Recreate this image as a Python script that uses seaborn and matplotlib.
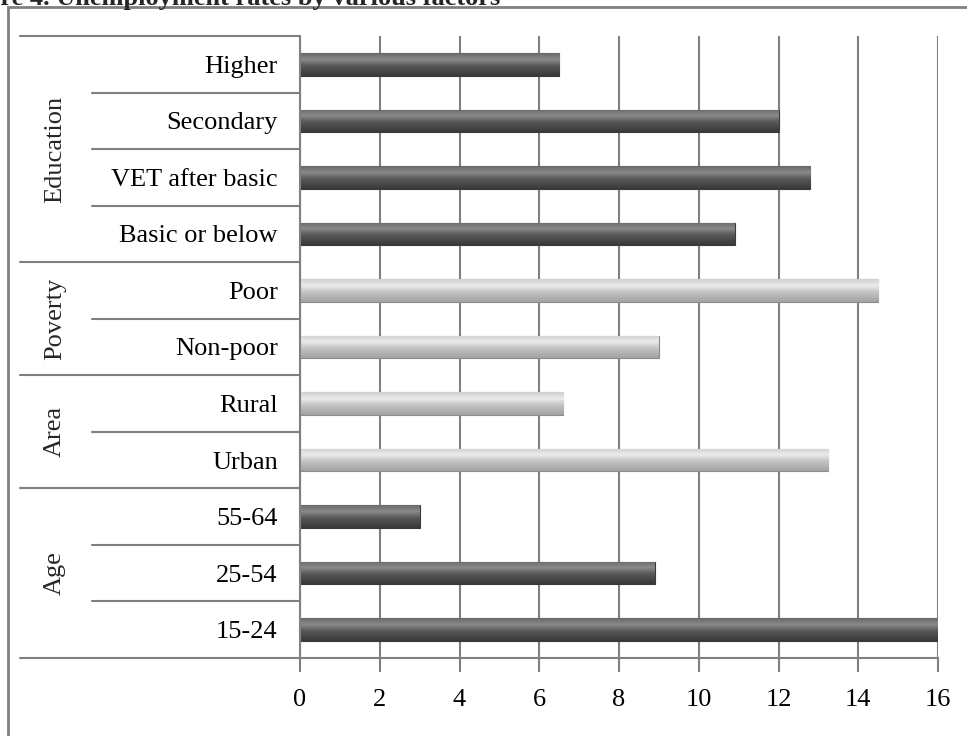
import numpy as np
import pandas as pd
import seaborn as sns
import matplotlib.pyplot as plt
from matplotlib.colors import LinearSegmentedColormap
from matplotlib.patches import Rectangle
import matplotlib.transforms as mtransforms

sns.set_theme(style="white")
plt.rcParams["font.family"] = ["Liberation Serif", "DejaVu Serif"]

# rows from top to bottom
LABELS = ["Higher", "Secondary", "VET after basic", "Basic or below",
          "Poor", "Non-poor", "Rural", "Urban",
          "55-64", "25-54", "15-24"]
RATES = [6.5, 12.0, 12.8, 10.9, 14.5, 9.0, 6.6, 13.25, 3.0, 8.9, 16.0]
GROUPS = ["Education"] * 4 + ["Poverty"] * 2 + ["Area"] * 2 + ["Age"] * 3
GROUP_ORDER = ["Education", "Poverty", "Area", "Age"]
SHADE = {"Education": "dark", "Poverty": "light", "Area": "light", "Age": "dark"}

df = pd.DataFrame({"label": LABELS, "rate": RATES, "group": GROUPS})
df["shade"] = df["group"].map(SHADE)

BASE = {"dark": "#585858", "light": "#c4c4c4"}
GRAD = {
    "dark": LinearSegmentedColormap.from_list(
        "d", [(0, "#6a6a6a"), (0.28, "#8a8a8a"), (0.55, "#595959"), (1, "#383838")]),
    "light": LinearSegmentedColormap.from_list(
        "l", [(0, "#d0d0d0"), (0.28, "#ebebeb"), (0.55, "#c6c6c6"), (1, "#a2a2a2")]),
}

fig = plt.figure(figsize=(9.67, 7.36), dpi=100)
ax = fig.add_axes([300 / 967, 1 - 658 / 736, 638 / 967, 622 / 736])

sns.barplot(data=df, x="rate", y="label", hue="shade", palette=BASE,
            dodge=False, width=0.4, legend=False, ax=ax, order=LABELS)

# bevelled look: vertical gradient clipped to each bar
grad = np.linspace(0, 1, 64).reshape(-1, 1)
for patch in list(ax.patches):
    x0, y0 = patch.get_x(), patch.get_y()
    w, h = patch.get_width(), patch.get_height()
    if w <= 0 or np.isnan(w):
        continue
    row = int(round(y0 + h / 2))
    shade = df["shade"].iloc[row]
    patch.set_edgecolor("#3a3a3a" if shade == "dark" else "#8a8a8a")
    patch.set_linewidth(0.8)
    im = ax.imshow(grad, extent=[x0, x0 + w, y0 + h, y0], aspect="auto",
                   cmap=GRAD[shade], origin="upper", zorder=patch.get_zorder() + 0.1)
    im.set_clip_path(patch)

ax.set_xlim(0, 16)
ax.set_ylim(len(LABELS) - 0.5, -0.5)
ax.set_xticks(np.arange(0, 17, 2))
ax.set_xlabel("")
ax.set_ylabel("")
ax.grid(axis="x", color="#808080", linewidth=1.5)
ax.set_axisbelow(True)
for side in ["top", "right"]:
    ax.spines[side].set_visible(False)
for side in ["left", "bottom"]:
    ax.spines[side].set_color("#808080")
    ax.spines[side].set_linewidth(1.5)
ax.tick_params(axis="x", bottom=True, length=10, width=1.5, color="#808080",
               pad=12, labelsize=19, labelcolor="black")
ax.tick_params(axis="y", left=False, pad=10, labelsize=19, labelcolor="black")

# grouped category labels on the left
trans = mtransforms.blended_transform_factory(ax.transAxes, ax.transData)
inner_x, outer_x, group_x = -0.326, -0.439, -0.384
bounds = [-0.5]
for g in GROUP_ORDER:
    bounds.append(bounds[-1] + GROUPS.count(g))
for b in bounds:
    ax.plot([outer_x, 0], [b, b], transform=trans, color="#808080",
            lw=1.5, clip_on=False)
for i in range(len(LABELS) - 1):
    yb = i + 0.5
    if yb not in bounds:
        ax.plot([inner_x, 0], [yb, yb], transform=trans, color="#808080",
                lw=1.5, clip_on=False)
for g, lo, hi in zip(GROUP_ORDER, bounds[:-1], bounds[1:]):
    ax.text(group_x, (lo + hi) / 2, g, transform=trans, rotation=90,
            ha="center", va="center", fontsize=19)

# outer frame, running off the right and bottom edges
fig.patches.append(Rectangle((8 / 967, -0.1), 1.2, 1 - 7 / 736 + 0.1,
                             transform=fig.transFigure, fill=False,
                             edgecolor="#808080", linewidth=2))

# title, clipped by the top edge as in the original
fig.text(500 / 967, 1 - 5 / 736, "Figure 4. Unemployment rates by various factors",
         ha="right", va="baseline", fontsize=19, fontweight="bold")

fig.savefig("out.png", dpi=100)
